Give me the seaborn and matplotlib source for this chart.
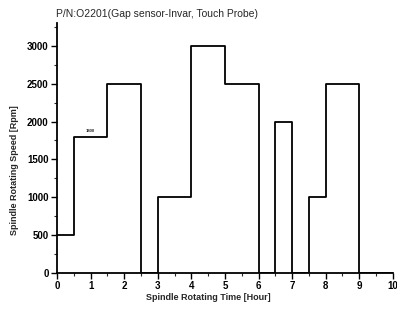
import matplotlib
matplotlib.use("Agg")
import matplotlib.pyplot as plt
import seaborn as sns
import pandas as pd
from matplotlib.ticker import MultipleLocator

times = [0, 0.5, 1.5, 2.5, 3, 4, 5, 6, 6.5, 7, 7.5, 8, 9, 10]
speeds = [500, 1800, 2500, 0, 1000, 3000, 2500, 0, 2000, 0, 1000, 2500, 0, 0]
title = "P/N:O2201(Gap sensor-Invar, Touch Probe)"
xlabel = "Spindle Rotating Time [Hour]"
ylabel = "Spindle Rotating Speed [Rpm]"
note = "1800"

sns.set_style("ticks")
plt.rcParams['font.family'] = ['Liberation Sans', 'DejaVu Sans']

df = pd.DataFrame({"time": times, "speed": speeds})
fig = plt.figure(figsize=(3.97, 3.12), dpi=100)
ax = fig.add_axes([0.1436, 0.125, 0.846, 0.801])
sns.lineplot(data=df, x="time", y="speed", ax=ax, color="black", lw=1.3,
             drawstyle="steps-post", sort=False)
ax.set_xlim(0, 10)
ax.set_ylim(0, 3300)
ax.xaxis.set_major_locator(MultipleLocator(1))
ax.xaxis.set_minor_locator(MultipleLocator(0.5))
ax.yaxis.set_minor_locator(MultipleLocator(250))
ax.set_yticks(range(0, 3001, 500))
ax.tick_params(which="major", direction="out", length=4, width=1.0, labelsize=7, colors="black", pad=2)
ax.tick_params(which="minor", direction="out", length=2, width=0.8)
for lbl in ax.get_xticklabels() + ax.get_yticklabels():
    lbl.set_fontweight("bold")
for s in ["top", "right"]:
    ax.spines[s].set_visible(False)
for s in ["left", "bottom"]:
    ax.spines[s].set_linewidth(1.3)
    ax.spines[s].set_color("black")
ax.set_xlabel(xlabel, fontsize=6.5, fontweight="bold")
ax.set_ylabel(ylabel, fontsize=6.5, fontweight="bold")
ax.xaxis.set_label_coords(0.45, -0.08)
ax.yaxis.set_label_coords(-0.113, 0.41)
fig.text(56/397, 1 - 14/312, title, fontsize=7.5, va="center", ha="left")
ax.text(1.0, 1850, note, fontsize=3, fontweight="bold", ha="center", va="bottom")
fig.savefig("out.png", dpi=100)
